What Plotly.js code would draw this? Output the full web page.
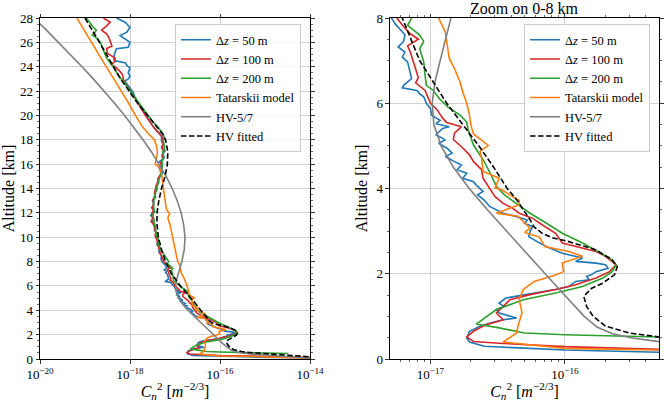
<!DOCTYPE html>
<html>
<head>
<meta charset="utf-8">
<script src="https://cdn.plot.ly/plotly-3.0.1.min.js"></script>
<style>
  html, body { margin: 0; padding: 0; background: #fff; }
  #chart { width: 664px; height: 402px; }
</style>
</head>
<body>
<div id="chart"></div>
<script>
// Cn2 profiles: altitude [km] and Cn2 [m^-2/3]

const alt50 = [28.0, 27.65, 27.24, 26.83, 26.56, 26.28, 26.0, 25.6, 25.47, 25.2,
  24.8, 24.5, 24.3, 24.1, 23.9, 23.5, 23.2, 23.0, 22.8, 22.5,
  22.2, 21.9, 21.5, 21.0, 20.5, 20.0, 19.5, 19.0, 18.6, 18.3,
  18.0, 17.7, 17.4, 17.1, 16.8, 16.5, 16.2, 16.0, 15.7, 15.4,
  15.1, 14.8, 14.5, 14.2, 13.9, 13.6, 13.3, 13.0, 12.7, 12.4,
  12.1, 11.8, 11.5, 11.2, 10.9, 10.6, 10.3, 10.0, 9.7, 9.4,
  9.1, 8.8, 8.5, 8.2, 8.0, 7.85, 7.75, 7.6, 7.45, 7.32,
  7.2, 7.08, 6.97, 6.85, 6.72, 6.58, 6.42, 6.36, 6.3, 6.22,
  6.15, 6.0, 5.87, 5.72, 5.6, 5.52, 5.45, 5.41, 5.26, 5.14,
  5.06, 4.95, 4.83, 4.75, 4.63, 4.55, 4.44, 4.36, 4.24, 4.16,
  4.08, 3.93, 3.85, 3.73, 3.58, 3.5, 3.42, 3.34, 3.26, 3.18,
  3.11, 2.99, 2.87, 2.76, 2.64, 2.48, 2.37, 2.29, 2.25, 2.21,
  2.13, 2.05, 1.98, 1.94, 1.86, 1.82, 1.7, 1.63, 1.55, 1.47,
  1.43, 1.31, 1.23, 1.16, 1.08, 0.96, 0.92, 0.84, 0.77, 0.65,
  0.49, 0.4, 0.3, 0.21, 0.16, 0.1, 0.05];
const cn50 = [5.01e-19, 7.76e-19, 1.00e-18, 8.51e-19, 6.03e-19, 7.76e-19, 1.00e-18, 9.12e-19, 5.01e-19, 4.68e-19,
  4.37e-19, 4.47e-19, 7.94e-19, 8.51e-19, 1.00e-18, 9.12e-19, 1.00e-18, 9.12e-19, 7.59e-19, 8.91e-19,
  1.05e-18, 1.18e-18, 1.29e-18, 1.51e-18, 1.86e-18, 2.24e-18, 2.82e-18, 3.39e-18, 4.37e-18, 5.01e-18,
  5.01e-18, 5.62e-18, 5.01e-18, 6.03e-18, 5.25e-18, 5.75e-18, 4.47e-18, 5.25e-18, 4.37e-18, 5.37e-18,
  5.01e-18, 4.17e-18, 4.37e-18, 3.80e-18, 3.98e-18, 3.47e-18, 3.72e-18, 3.16e-18, 3.39e-18, 3.02e-18,
  3.55e-18, 2.88e-18, 3.39e-18, 3.16e-18, 3.63e-18, 3.47e-18, 3.89e-18, 3.72e-18, 4.17e-18, 3.98e-18,
  4.57e-18, 4.37e-18, 5.01e-18, 4.90e-18, 5.13e-18, 5.50e-18, 5.89e-18, 6.46e-18, 6.31e-18, 5.75e-18,
  6.46e-18, 6.17e-18, 6.76e-18, 6.92e-18, 7.08e-18, 7.24e-18, 6.31e-18, 6.17e-18, 7.94e-18, 8.32e-18,
  8.91e-18, 9.33e-18, 1.00e-17, 1.02e-17, 1.18e-17, 1.10e-17, 1.38e-17, 1.23e-17, 1.10e-17, 1.29e-17,
  1.15e-17, 1.32e-17, 1.45e-17, 1.29e-17, 1.51e-17, 1.70e-17, 1.58e-17, 1.86e-17, 1.74e-17, 2.09e-17,
  2.19e-17, 2.46e-17, 2.24e-17, 2.51e-17, 2.75e-17, 3.09e-17, 3.47e-17, 4.37e-17, 5.25e-17, 5.01e-17,
  5.75e-17, 5.50e-17, 5.37e-17, 6.17e-17, 7.24e-17, 9.55e-17, 1.35e-16, 1.20e-16, 1.70e-16, 2.00e-16,
  2.09e-16, 1.70e-16, 1.58e-16, 1.45e-16, 1.51e-16, 1.20e-16, 1.07e-16, 8.51e-17, 6.17e-17, 4.57e-17,
  3.63e-17, 3.24e-17, 3.55e-17, 3.09e-17, 3.24e-17, 4.37e-17, 3.47e-17, 2.75e-17, 2.34e-17, 1.95e-17,
  1.86e-17, 1.95e-17, 2.51e-17, 1.00e-16, 5.01e-16, 5.01e-15, 1.58e-14];

const alt100 = [28.0, 27.65, 27.35, 27.0, 26.7, 26.4, 26.1, 25.7, 25.5, 25.1,
  24.7, 24.4, 24.2, 23.9, 23.6, 23.3, 23.0, 22.6, 22.2,
  21.8, 21.4, 21.0, 20.5, 20.0, 19.5, 19.0, 18.5, 18.2,
  17.9, 17.6, 17.3, 17.0, 16.7, 16.4, 16.1, 15.8, 15.5, 15.2,
  14.9, 14.6, 14.3, 14.0, 13.7, 13.4, 13.1, 12.8, 12.5, 12.2,
  11.9, 11.6, 11.3, 11.0, 10.7, 10.4, 10.1, 9.8, 9.5, 9.2,
  8.9, 8.6, 8.3,
  8.0, 7.8, 7.63, 7.5, 7.35, 7.2, 7.0, 6.8, 6.6, 6.48,
  6.3, 6.15, 6.0, 5.85, 5.65, 5.55, 5.45, 5.3, 5.15, 4.95,
  4.79, 4.63, 4.44, 4.24, 4.01, 3.81, 3.65, 3.54, 3.42, 3.3,
  3.15, 2.95, 2.72, 2.6, 2.52, 2.41, 2.21, 2.05, 1.9, 1.74,
  1.63, 1.51, 1.39, 1.23, 1.08, 0.92, 0.8, 0.65, 0.52, 0.41,
  0.37, 0.29, 0.25, 0.15, 0.1];
const cn100 = [2.57e-19, 3.63e-19, 3.02e-19, 2.34e-19, 3.02e-19, 3.39e-19, 3.63e-19, 3.98e-19, 3.02e-19, 3.16e-19,
  4.68e-19, 4.57e-19, 3.80e-19, 5.01e-19, 6.03e-19, 6.92e-19, 7.08e-19, 7.94e-19, 9.55e-19,
  1.10e-18, 1.32e-18, 1.51e-18, 1.82e-18, 2.19e-18, 2.75e-18, 3.39e-18, 4.47e-18, 5.25e-18,
  5.01e-18, 5.50e-18, 5.13e-18, 5.62e-18, 5.13e-18, 5.37e-18, 4.79e-18, 5.01e-18, 4.68e-18, 4.90e-18,
  4.27e-18, 4.17e-18, 3.89e-18, 3.72e-18, 3.55e-18, 3.63e-18, 3.24e-18, 3.39e-18, 3.16e-18, 3.31e-18,
  3.02e-18, 3.24e-18, 2.95e-18, 3.39e-18, 3.55e-18, 3.72e-18, 3.63e-18, 3.98e-18, 4.07e-18, 4.27e-18,
  4.57e-18, 4.79e-18, 5.25e-18,
  5.62e-18, 6.31e-18, 7.08e-18, 8.13e-18, 6.76e-18, 7.08e-18, 7.41e-18, 7.76e-18, 8.13e-18, 7.76e-18,
  9.12e-18, 9.55e-18, 1.00e-17, 1.12e-17, 1.23e-17, 1.32e-17, 1.70e-17, 1.51e-17, 1.48e-17, 1.74e-17,
  1.95e-17, 2.09e-17, 2.40e-17, 2.46e-17, 2.75e-17, 3.02e-17, 3.47e-17, 4.07e-17, 4.57e-17, 5.75e-17,
  6.76e-17, 8.51e-17, 9.55e-17, 1.35e-16, 1.70e-16, 2.00e-16, 2.40e-16, 2.14e-16, 1.70e-16, 1.20e-16,
  8.51e-17, 5.50e-17, 3.89e-17, 3.47e-17, 3.09e-17, 3.47e-17, 2.57e-17, 2.09e-17, 1.86e-17, 2.09e-17,
  3.24e-17, 1.00e-16, 5.01e-16, 6.31e-15, 1.26e-14];

const alt200 = [28.0, 27.6, 27.3, 27.0, 26.8, 26.6, 26.3, 26.0, 25.6, 25.2,
  24.8, 24.4, 24.0, 23.6, 23.2, 22.8, 22.4, 22.0, 21.5, 21.0,
  20.5, 20.0, 19.5, 19.0, 18.5, 18.2, 17.8, 17.4, 17.0, 16.6,
  16.2, 15.8, 15.4, 15.0, 14.6, 14.2, 13.8, 13.4, 13.0, 12.6,
  12.2, 11.8, 11.4, 11.0, 10.6, 10.2, 9.8, 9.4, 9.0, 8.6,
  8.3, 8.0, 7.83, 7.6, 7.45, 7.28, 6.97, 6.65, 6.42, 6.3,
  6.1, 5.91, 5.72, 5.56, 5.36, 5.02, 4.63, 4.32, 4.05, 3.85,
  3.65, 3.42, 3.19, 2.95, 2.72, 2.52, 2.37, 2.21, 2.05, 1.9,
  1.7, 1.55, 1.39, 1.16, 0.82, 0.73, 0.61, 0.57, 0.5, 0.45];
const cn200 = [1.07e-19, 1.26e-19, 1.48e-19, 1.78e-19, 1.66e-19, 1.45e-19, 1.91e-19, 2.19e-19, 2.40e-19, 2.63e-19,
  2.95e-19, 3.47e-19, 4.27e-19, 4.90e-19, 5.75e-19, 7.08e-19, 8.51e-19, 1.02e-18, 1.26e-18, 1.58e-18,
  2.00e-18, 2.46e-18, 3.16e-18, 4.27e-18, 5.37e-18, 5.75e-18, 5.50e-18, 5.89e-18, 5.37e-18, 5.62e-18,
  5.13e-18, 5.25e-18, 4.90e-18, 4.57e-18, 4.27e-18, 3.98e-18, 3.72e-18, 3.55e-18, 3.39e-18, 3.31e-18,
  3.47e-18, 3.24e-18, 3.39e-18, 3.55e-18, 3.80e-18, 3.89e-18, 4.27e-18, 4.37e-18, 4.79e-18, 5.62e-18,
  6.31e-18, 7.24e-18, 6.76e-18, 8.32e-18, 8.91e-18, 8.32e-18, 8.91e-18, 9.12e-18, 9.33e-18, 1.05e-17,
  1.17e-17, 1.35e-17, 1.66e-17, 1.86e-17, 1.91e-17, 2.09e-17, 2.51e-17, 2.82e-17, 3.09e-17, 3.55e-17,
  4.37e-17, 5.50e-17, 7.24e-17, 9.55e-17, 1.35e-16, 1.78e-16, 2.14e-16, 2.40e-16, 2.24e-16, 1.91e-16,
  1.35e-16, 8.51e-17, 4.90e-17, 3.09e-17, 2.19e-17, 3.24e-17, 5.01e-17, 1.00e-16, 5.01e-16, 3.31e-15];

const altTat = [28.0, 27.0, 26.0, 25.0, 24.0, 23.0, 22.0, 21.0, 20.0, 19.5,
  19.0, 18.5, 18.0, 17.5, 17.0, 16.5, 16.0, 15.7, 15.0, 14.0,
  13.0, 12.3, 11.9, 11.6, 11.0, 10.0, 9.0, 8.5, 8.0, 7.67,
  7.28, 7.05, 6.81, 6.5, 6.26, 6.0, 5.72, 5.48, 5.28, 5.15,
  5.01, 4.87, 4.71, 4.4, 4.32, 4.24, 4.01, 3.97, 3.85, 3.72,
  3.62, 3.42, 3.35, 3.22, 3.07, 2.97, 2.86, 2.64, 2.52, 2.41,
  2.25, 2.05, 1.97, 1.82, 1.63, 1.4, 1.08, 0.77, 0.61, 0.4,
  0.25, 0.21, 0.12, 0.05];
const cnTat = [6.61e-20, 9.55e-20, 1.38e-19, 2.04e-19, 2.95e-19, 4.37e-19, 6.46e-19, 9.33e-19, 1.32e-18, 1.58e-18,
  1.95e-18, 2.57e-18, 3.47e-18, 3.89e-18, 4.07e-18, 3.89e-18, 3.63e-18, 4.68e-18, 5.13e-18, 5.50e-18,
  6.03e-18, 6.46e-18, 7.59e-18, 6.92e-18, 7.76e-18, 8.91e-18, 1.02e-17, 1.07e-17, 1.15e-17, 1.29e-17,
  1.35e-17, 1.38e-17, 1.51e-17, 1.66e-17, 1.74e-17, 1.86e-17, 1.95e-17, 2.00e-17, 2.09e-17, 2.34e-17,
  2.69e-17, 2.34e-17, 2.40e-17, 2.46e-17, 2.82e-17, 3.24e-17, 3.02e-17, 3.39e-17, 3.89e-17, 4.57e-17,
  4.57e-17, 3.09e-17, 4.47e-17, 4.90e-17, 5.50e-17, 5.01e-17, 6.46e-17, 7.08e-17, 1.07e-16, 1.35e-16,
  9.55e-17, 9.77e-17, 8.51e-17, 5.89e-17, 4.90e-17, 4.57e-17, 4.79e-17, 4.47e-17, 4.37e-17, 3.47e-17,
  1.00e-16, 5.01e-16, 6.31e-15, 1.58e-14];

const altHV = [0, 0.05, 0.1, 0.15, 0.2, 0.3, 0.4, 0.5, 0.6, 0.75,
  1.0, 1.25, 1.5, 2.0, 2.5, 3.0, 3.5, 4.0, 4.5, 5.0,
  5.5, 6.0, 6.5, 7.0, 8.0, 9.0, 10.0, 11.0, 12.0, 13.0,
  14.0, 15.0, 16.0, 17.0, 18.0, 19.0, 20.0, 21.0, 22.0, 23.0,
  24.0, 25.0, 26.0, 27.0, 28.0];
const cnHV = [1.73e-14, 1.06e-14, 6.50e-15, 4.04e-15, 2.54e-15, 1.07e-15, 5.18e-16, 3.08e-16, 2.23e-16, 1.73e-16,
  1.39e-16, 1.17e-16, 9.93e-17, 7.12e-17, 5.10e-17, 3.65e-17, 2.65e-17, 1.94e-17, 1.48e-17, 1.20e-17,
  1.06e-17, 1.03e-17, 1.08e-17, 1.18e-17, 1.42e-17, 1.61e-17, 1.67e-17, 1.56e-17, 1.37e-17, 1.12e-17,
  8.65e-18, 6.35e-18, 4.45e-18, 3.00e-18, 1.95e-18, 1.23e-18, 7.58e-19, 4.54e-19, 2.66e-19, 1.53e-19,
  8.60e-20, 4.76e-20, 2.59e-20, 1.39e-20, 7.35e-21];

const altFit = [28, 27, 26, 25, 24, 23, 22, 21, 20, 19,
  18.5, 18, 17, 16, 15, 14, 13, 12, 11, 10,
  9, 8, 7, 6, 5, 4.5, 4, 3.7, 3.5, 3.27,
  3.1, 2.95, 2.85, 2.76, 2.56, 2.33, 2.17, 1.98, 1.78, 1.66,
  1.47, 1.23, 1.0, 0.77, 0.61, 0.52, 0.45, 0.35, 0.25, 0.19,
  0.1];
const cnFit = [1.00e-19, 1.45e-19, 2.14e-19, 3.02e-19, 4.27e-19, 6.17e-19, 9.55e-19, 1.48e-18, 2.46e-18, 4.17e-18,
  5.25e-18, 6.17e-18, 6.92e-18, 6.76e-18, 6.03e-18, 5.01e-18, 4.37e-18, 3.98e-18, 3.98e-18, 4.27e-18,
  5.01e-18, 6.17e-18, 8.32e-18, 1.32e-17, 2.29e-17, 2.95e-17, 3.72e-17, 4.47e-17, 4.90e-17, 5.50e-17,
  5.89e-17, 6.76e-17, 7.94e-17, 1.05e-16, 1.70e-16, 2.24e-16, 2.45e-16, 2.34e-16, 1.91e-16, 1.58e-16,
  1.38e-16, 1.45e-16, 1.62e-16, 2.00e-16, 3.02e-16, 4.90e-16, 8.91e-16, 2.24e-15, 5.62e-15, 1.00e-14,
  2.00e-14];

const seriesNames = ['Δ<i>z</i> = 50 m', 'Δ<i>z</i> = 100 m', 'Δ<i>z</i> = 200 m',
  'Tatarskii model', 'HV-5/7', 'HV fitted'];
const leftTickVals = [1e-20, 1e-18, 1e-16, 1e-14];
const leftTickText = ['10<sup>−20</sup>', '10<sup>−18</sup>', '10<sup>−16</sup>', '10<sup>−14</sup>'];
const rightTickVals = [1e-17, 1e-16];
const rightTickText = ['10<sup>−17</sup>', '10<sup>−16</sup>'];
const rightMinorVals = [6e-18, 7e-18, 8e-18, 9e-18, 2e-17, 3e-17, 4e-17, 5e-17, 6e-17, 7e-17, 8e-17, 9e-17,
  2e-16, 3e-16, 4e-16];

const FONT = 'Liberation Serif';

const profiles = [
  { alt: alt50, cn: cn50, color: '#1f77b4' },
  { alt: alt100, cn: cn100, color: '#d62728' },
  { alt: alt200, cn: cn200, color: '#2ca02c' },
  { alt: altTat, cn: cnTat, color: '#ff7f0e' },
  { alt: altHV, cn: cnHV, color: '#7f7f7f' },
  { alt: altFit, cn: cnFit, color: '#000000', dash: '5.5px,2.5px' }
];

const makeTraces = (xa, ya, legendId) => profiles.map((p, i) => ({
  type: 'scatter',
  mode: 'lines',
  x: p.cn,
  y: p.alt,
  name: seriesNames[i],
  xaxis: xa,
  yaxis: ya,
  legend: legendId,
  hoverinfo: 'skip',
  line: { color: p.color, width: 1.6, dash: p.dash || 'solid' }
}));

const data = makeTraces('x', 'y', 'legend').concat(makeTraces('x2', 'y2', 'legend2'));

const axisBase = {
  showline: true,
  linecolor: '#000',
  linewidth: 1,
  mirror: 'allticks',
  ticks: 'outside',
  ticklen: 3.5,
  tickwidth: 0.8,
  tickcolor: '#000',
  showgrid: true,
  gridcolor: '#c6c6c6',
  gridwidth: 0.8,
  zeroline: false,
  tickfont: { family: FONT, size: 13, color: '#000' }
};

const xTitle = {
  text: '<i>C</i><sub><i>n</i></sub><sup>2</sup> [<i>m</i><sup>−2/3</sup>]',
  font: { family: FONT, size: 16, color: '#000' },
  standoff: 2
};
const yTitle = {
  text: 'Altitude [km]',
  font: { family: FONT, size: 16, color: '#000' },
  standoff: 4
};
const yMinor = { dtick: 0.5, tick0: 0, ticks: 'outside', ticklen: 2, tickwidth: 0.6, tickcolor: '#000', showgrid: false };

const legendBase = {
  xanchor: 'left',
  yanchor: 'top',
  y: 0.982,
  bgcolor: 'rgba(255,255,255,0.85)',
  bordercolor: '#cccccc',
  borderwidth: 1,
  font: { family: FONT, size: 12.5, color: '#000' },
  tracegroupgap: 0
};

const layout = {
  width: 664,
  height: 402,
  margin: { l: 40, r: 5, t: 18, b: 43 },
  paper_bgcolor: '#fff',
  plot_bgcolor: '#fff',
  font: { family: FONT, color: '#000' },
  showlegend: true,
  xaxis: Object.assign({}, axisBase, {
    type: 'log', domain: [0, 0.4362], range: [-20, -14], anchor: 'y',
    tickmode: 'array', tickvals: leftTickVals, ticktext: leftTickText,
    title: xTitle
  }),
  yaxis: Object.assign({}, axisBase, {
    range: [0, 28], dtick: 2, tick0: 0, anchor: 'x',
    minor: yMinor, title: yTitle
  }),
  xaxis2: Object.assign({}, axisBase, {
    type: 'log', domain: [0.5654, 1], range: [-17.301, -15.301], anchor: 'y2',
    tickmode: 'array', tickvals: rightTickVals, ticktext: rightTickText,
    minor: { tickmode: 'array', tickvals: rightMinorVals, ticks: 'outside', ticklen: 2, tickwidth: 0.6, tickcolor: '#000', showgrid: false },
    title: xTitle
  }),
  yaxis2: Object.assign({}, axisBase, {
    range: [0, 8], dtick: 2, tick0: 0, anchor: 'x2',
    minor: yMinor, title: yTitle
  }),
  legend: Object.assign({}, legendBase, { x: 0.218 }),
  legend2: Object.assign({}, legendBase, { x: 0.782 }),
  annotations: [{
    text: 'Zoom on 0-8 km',
    xref: 'paper', yref: 'paper',
    x: 0.7827, y: 1.029,
    xanchor: 'center', yanchor: 'middle',
    showarrow: false,
    font: { family: FONT, size: 16, color: '#000' }
  }]
};

Plotly.newPlot('chart', data, layout, { displayModeBar: false, staticPlot: true });
</script>
</body>
</html>
